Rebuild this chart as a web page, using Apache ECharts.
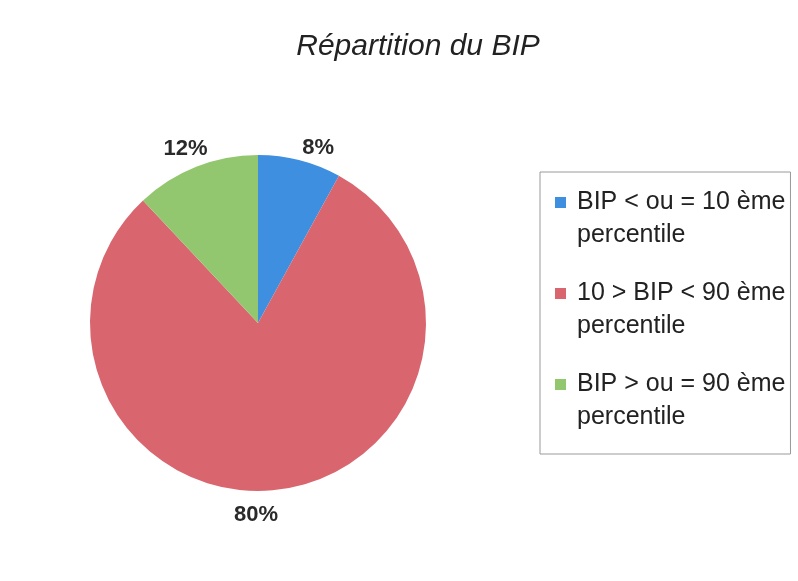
<!DOCTYPE html>
<html><head><meta charset="utf-8">
<script src="https://cdn.jsdelivr.net/npm/echarts@6/dist/echarts.min.js"></script>
<style>html,body{margin:0;padding:0;background:#fff}#c{width:798px;height:581px}</style>
</head><body><div id="c"></div>
<script>
const categories = ['BIP < ou = 10 ème\npercentile', '10 > BIP < 90 ème\npercentile', 'BIP > ou = 90 ème\npercentile'];
const values = [8, 80, 12];
const colors = ['#3f8fe0', '#d9666f', '#93c76f'];

const pieCenter = [258, 323];
const labelShift = [[-5, -3], [0, 15], [20, -9]];
const chart = echarts.init(document.getElementById('c'));
chart.setOption({
  backgroundColor: '#fff',
  animation: false,
  title: {
    text: 'Répartition du BIP',
    left: 413, top: 27, textAlign: 'center',
    textStyle: { fontFamily: 'Liberation Sans', fontStyle: 'italic', fontWeight: 'normal', fontSize: 30, color: '#222' }
  },
  legend: {
    orient: 'vertical',
    left: 540, top: 172,
    width: 260,
    padding: [14, 5, 20, 15],
    borderColor: '#9a9a9a', borderWidth: 1,
    itemWidth: 11, itemHeight: 44, itemGap: 25,
    icon: 'path://M0,0h11v11h-11z M0,44h0.01v0.01h-0.01z',
    textStyle: { fontFamily: 'Liberation Sans', fontSize: 25, color: '#222', lineHeight: 33, padding: [0, 0, 0, 6] },
    data: categories
  },
  series: [{
    type: 'pie',
    center: pieCenter,
    radius: 168,
    startAngle: 90,
    clockwise: true,
    label: {
      show: true, position: 'outside', formatter: '{c}%',
      fontFamily: 'Liberation Sans', fontWeight: 'bold', fontSize: 22, color: '#2a2a2a'
    },
    labelLine: { show: false, length: 10, length2: 0 },
    labelLayout: function (p) {
      const s = labelShift[p.dataIndex];
      if (p.dataIndex === 1) {
        return { dx: pieCenter[0] - 2 - (p.labelRect.x + p.labelRect.width / 2), dy: s[1] };
      }
      return { dx: s[0], dy: s[1] };
    },
    emphasis: { disabled: true },
    data: categories.map((n, i) => ({ name: n, value: values[i], itemStyle: { color: colors[i] } }))
  }]
});
</script></body></html>
